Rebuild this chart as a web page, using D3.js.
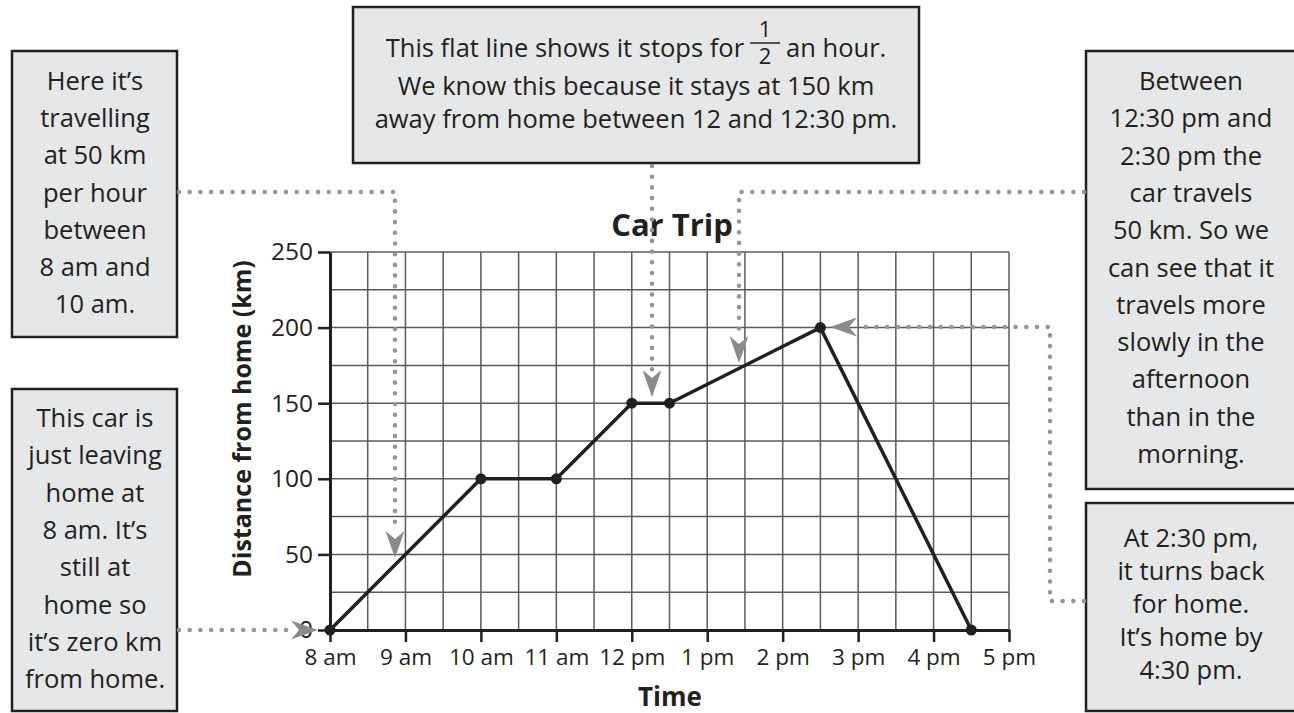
<!DOCTYPE html>
<html>
<head>
<meta charset="utf-8">
<script src="https://cdn.jsdelivr.net/npm/d3@7"></script>
<style>
  html, body { margin: 0; padding: 0; background: #fff; }
  svg { display: block; }
  text { font-family: "Open Sans", Lato, sans-serif; fill: #231f20; }
</style>
</head>
<body>
<svg id="chart" width="1294" height="713"></svg>
<script>
// ---- data ----
const times = [8, 10, 11, 12, 12.5, 14.5, 16.5];
const distances = [0, 100, 100, 150, 150, 200, 0];
const xTickValues = [8, 9, 10, 11, 12, 13, 14, 15, 16, 17];
const xTickLabels = ["8 am", "9 am", "10 am", "11 am", "12 pm", "1 pm", "2 pm", "3 pm", "4 pm", "5 pm"];
const yTickValues = [0, 50, 100, 150, 200, 250];
const title = "Car Trip";
const xTitle = "Time";
const yTitle = "Distance from home (km)";

const note1 = ["Here it’s", "travelling", "at 50 km", "per hour", "between", "8 am and", "10 am."];
const note2 = ["This car is", "just leaving", "home at", "8 am. It’s", "still at", "home so", "it’s zero km", "from home."];
const note3a = ["This flat line shows it stops for", "an hour."];
const note3frac = ["1", "2"];
const note3 = ["We know this because it stays at 150 km", "away from home between 12 and 12:30 pm."];
const note4 = ["Between", "12:30 pm and", "2:30 pm the", "car travels", "50 km. So we", "can see that it", "travels more", "slowly in the", "afternoon", "than in the", "morning."];
const note5 = ["At 2:30 pm,", "it turns back", "for home.", "It’s home by", "4:30 pm."];

// ---- layout ----
const svg = d3.select("#chart");
const x = d3.scaleLinear().domain([8, 17]).range([330, 1009]);
const y = d3.scaleLinear().domain([0, 250]).range([630, 252]);

const ink = "#231f20";
const gridColor = "#5a5a5a";
const dotColor = "#939598";
const arrowColor = "#8a8b8d";
const bodySize = 25.5;

// grid
const g = svg.append("g");
g.append("g").selectAll("line").data(d3.range(8, 17.01, 0.5)).join("line")
  .attr("x1", d => x(d)).attr("x2", d => x(d))
  .attr("y1", y(0)).attr("y2", y(250))
  .attr("stroke", gridColor).attr("stroke-width", 1.5);
g.append("g").selectAll("line").data(d3.range(0, 250.01, 25)).join("line")
  .attr("x1", x(8)).attr("x2", x(17))
  .attr("y1", d => y(d)).attr("y2", d => y(d))
  .attr("stroke", gridColor).attr("stroke-width", 1.5);

// axes
const xAxis = d3.axisBottom(x).tickValues(xTickValues)
  .tickFormat((d, i) => xTickLabels[i]).tickSize(12).tickSizeOuter(0).tickPadding(4);
const gx = svg.append("g").attr("transform", `translate(0,${y(0)})`).call(xAxis);
gx.select(".domain").attr("stroke", ink).attr("stroke-width", 3);
gx.selectAll(".tick line").attr("stroke", ink).attr("stroke-width", 2.5);
gx.selectAll(".tick text").attr("font-size", 22.5).attr("fill", ink)
  .attr("font-family", "'Open Sans', sans-serif").attr("dy", "0.84em");

const yAxis = d3.axisLeft(y).tickValues(yTickValues).tickSize(12).tickSizeOuter(0).tickPadding(5);
const gy = svg.append("g").attr("transform", `translate(${x(8)},0)`).call(yAxis);
gy.select(".domain").attr("stroke", ink).attr("stroke-width", 3);
gy.selectAll(".tick line").attr("stroke", ink).attr("stroke-width", 2.5);
gy.selectAll(".tick text").attr("font-size", 24.5).attr("fill", ink)
  .attr("font-family", "'Open Sans', sans-serif");

// titles
svg.append("text").attr("x", 672).attr("y", 236).attr("text-anchor", "middle")
  .attr("font-size", 31).attr("font-weight", "bold").text(title);
svg.append("text").attr("x", 670).attr("y", 706).attr("text-anchor", "middle")
  .attr("font-size", 26).attr("font-weight", "bold").text(xTitle);
svg.append("text").attr("transform", "translate(251,419) rotate(-90)").attr("text-anchor", "middle")
  .attr("font-size", 25).attr("font-weight", "bold").text(yTitle);

// data line
const pts = times.map((t, i) => [t, distances[i]]);
svg.append("path").datum(pts)
  .attr("d", d3.line().x(d => x(d[0])).y(d => y(d[1])))
  .attr("fill", "none").attr("stroke", ink).attr("stroke-width", 3.5).attr("stroke-linejoin", "round");
svg.append("g").selectAll("circle").data(pts).join("circle")
  .attr("cx", d => x(d[0])).attr("cy", d => y(d[1])).attr("r", 5.5).attr("fill", ink);

// annotation boxes
function box(x0, y0, x1, y1) {
  svg.append("rect").attr("x", x0).attr("y", y0).attr("width", x1 - x0).attr("height", y1 - y0)
    .attr("fill", "#e6e7e8").attr("stroke", ink).attr("stroke-width", 2.5);
}
function lines(arr, cx, y0, dy, size) {
  const t = svg.append("g");
  arr.forEach((s, i) => {
    t.append("text").attr("x", cx).attr("y", y0 + i * dy).attr("text-anchor", "middle")
      .attr("font-size", size).text(s);
  });
}
box(12, 51, 177, 337);   lines(note1, 95, 90, 37.2, bodySize);
box(12, 389, 177, 711);  lines(note2, 95, 427, 37.3, bodySize);
box(1086, 51, 1300, 489); lines(note4, 1191, 90, 37.3, bodySize);
box(1086, 503, 1300, 711); lines(note5, 1191, 547, 33, bodySize);
box(353, 7, 919, 163);
lines(note3, 636, 95, 33, bodySize);

// first line with an inline fraction (one text element with positioned tspans)
(function () {
  const fs = bodySize, gap = 6, fw = 30;
  const m1 = svg.append("text").attr("font-size", fs).text(note3a[0]);
  const m2 = svg.append("text").attr("font-size", fs).text(note3a[1]);
  const w1 = m1.node().getComputedTextLength();
  const w2 = m2.node().getComputedTextLength();
  m1.remove(); m2.remove();
  const total = w1 + gap + fw + gap + w2;
  const start = 636 - total / 2;
  const fx = start + w1 + gap;
  const t = svg.append("text").attr("font-size", fs);
  t.append("tspan").attr("x", start).attr("y", 57).text(note3a[0]);
  t.append("tspan").attr("x", fx + fw / 2).attr("y", 37).attr("text-anchor", "middle")
    .attr("font-size", 22).text(note3frac[0]);
  t.append("tspan").attr("x", fx + fw / 2).attr("y", 64).attr("text-anchor", "middle")
    .attr("font-size", 22).text(note3frac[1]);
  t.append("tspan").attr("x", fx + fw + gap).attr("y", 57).attr("text-anchor", "start").text(note3a[1]);
  svg.append("line").attr("x1", fx).attr("x2", fx + fw).attr("y1", 43).attr("y2", 43)
    .attr("stroke", ink).attr("stroke-width", 1.5);
})();

// dotted connectors and arrows
function dotted(points) {
  svg.append("path").attr("d", d3.line()(points))
    .attr("fill", "none").attr("stroke", dotColor).attr("stroke-width", 4.6)
    .attr("stroke-linecap", "round").attr("stroke-dasharray", "0 10.7");
}
function arrow(tx, ty, angle) {
  svg.append("path").attr("d", "M0,0 L-27,-9.5 L-19,0 L-27,9.5 Z")
    .attr("transform", `translate(${tx},${ty}) rotate(${angle})`)
    .attr("fill", arrowColor);
}
dotted([[179, 192], [395, 192], [395, 531]]);
arrow(395, 558, 90);
dotted([[179, 630], [292, 630]]);
arrow(318, 630, 0);
dotted([[652, 166], [652, 371]]);
arrow(652, 397, 90);
dotted([[1084, 192], [739, 192], [739, 337]]);
arrow(739, 363, 90);
dotted([[1084, 601], [1050, 601], [1050, 327], [857, 327]]);
arrow(830, 327, 180);
</script>
</body>
</html>
